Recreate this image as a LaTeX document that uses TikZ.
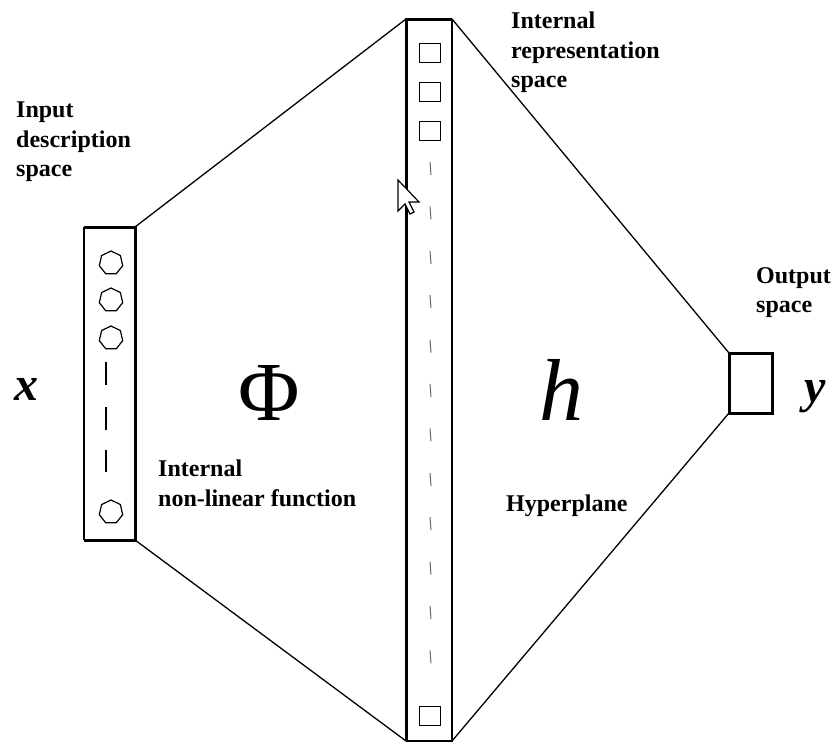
\documentclass[tikz,border=0pt]{standalone}
\usepackage{fontspec}
\setmainfont{Liberation Serif}
\usetikzlibrary{shapes.geometric}
\begin{document}
\begin{tikzpicture}[x=1pt,y=-1pt,
  area/.style={inner sep=0pt, outer sep=0pt, minimum width=#1},
  heavy/.style={line width=3pt},
  light/.style={line width=1.3pt},
  conn/.style={line width=1.3pt},
  unitc/.style={regular polygon, regular polygon sides=7, draw, line width=1.2pt, minimum size=24pt, inner sep=0pt},
  units/.style={draw, line width=1.2pt, minimum width=21pt, minimum height=19pt, inner sep=0pt},
  dashmark/.style={line width=1pt, gray!80!black},
  lbl/.style={font=\bfseries\fontsize{24}{29.5}\selectfont, align=left, inner sep=0pt, anchor=north west},
  big/.style={inner sep=0pt, anchor=base}
]
\useasboundingbox (0,0) rectangle (833,744);
% boxes (invisible anchors)
\node[area=51pt, minimum height=313pt] (inbox) at (109.5,383.5) {};
\node[area=46pt, minimum height=722pt] (bar) at (429,380) {};
\node[area=43pt, minimum height=60pt] (outbox) at (750.5,383) {};
% connectors
\draw[conn] (inbox.north east) -- (bar.north west);
\draw[conn] (inbox.south east) -- (bar.south west);
\draw[conn] (bar.north east) -- (outbox.north west);
\draw[conn] (bar.south east) -- (outbox.south west);
% input box
\draw[light] (inbox.north west) -- (inbox.south west);
\draw[heavy] (inbox.north west) -- (inbox.north east) -- (inbox.south east) -- (inbox.south west);
% bar
\draw[light] (bar.north east) -- (bar.south east) -- (bar.south west);
\draw[heavy] (bar.south west) -- (bar.north west) -- (bar.north east);
% output box
\draw[heavy] (outbox.north west) rectangle (outbox.south east);
% input units
\node[unitc] (c1) at (111,263) {};
\node[unitc] (c2) at (111,300) {};
\node[unitc] (c3) at (111,338) {};
\node[unitc] (c4) at (111,512) {};
\foreach \a/\b in {362/385, 407/430, 450/472}
  \draw[line width=1.2pt] (106,\a) -- (106,\b);
% bar units
\node[units] (s1) at (430,53) {};
\node[units] (s2) at (430,92) {};
\node[units] (s3) at (430,131) {};
\node[units] (s4) at (430,716) {};
\foreach \k in {0,...,11}
  \draw[dashmark] ({430},{162+44.4*\k}) -- ({431},{175+44.4*\k});
% cursor
\draw[fill=white, line width=1.2pt, line join=miter] (398,180) -- (398,211) -- (405,204) -- (410,214) -- (414,212) -- (409,202) -- (419,202) -- cycle;
% labels
\node[lbl] (linput) at (16,102) {Input\\description\\space};
\node[lbl] (lrep) at (511,12) {Internal\\representation\\space};
\node[lbl] (lout) at (756,267) {Output\\space};
\node[lbl] (lphi) at (158,460) {Internal\\non-linear function};
\node[lbl] (lhyp) at (506,495) {Hyperplane};
% big symbols
\node[big, anchor=base west] (sx) at (14,400) {\fontsize{48}{48}\selectfont\bfseries\itshape x};
\node[big] (sphi) at (269,420) {\fontsize{84}{84}\selectfont Φ};
\node[big] (sh) at (561,420) {\fontsize{88}{88}\selectfont\itshape h};
\node[big, anchor=base west] (sy) at (804,402) {\fontsize{48}{48}\selectfont\bfseries\itshape y};
\end{tikzpicture}
\end{document}
